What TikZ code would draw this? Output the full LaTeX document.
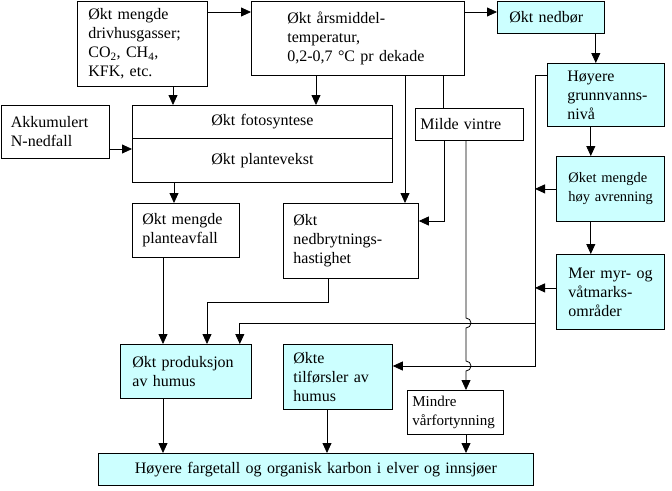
\documentclass[tikz,border=0pt]{standalone}
\usepackage{fontspec}
\setmainfont{Liberation Serif}
\usetikzlibrary{arrows.meta}
\definecolor{lysblaa}{RGB}{204,255,255}
\newcommand{\inn}[2]{\leftskip=#1pt\relax #2\par}

\begin{document}
\begin{tikzpicture}[x=1pt,y=-1pt,line width=0.8pt,>={Triangle[length=10pt,width=9pt]},
  boks/.style n args={2}{draw,fill=white,anchor=north west,align=left,inner sep=0pt,
    text width=#1,minimum height=#2,font=\fontsize{16}{19}\selectfont},
  midt/.style n args={2}{draw,fill=white,anchor=north west,align=center,inner sep=0pt,
    text width=#1,minimum height=#2,font=\fontsize{16}{19}\selectfont},
  blaa/.style={fill=lysblaa},
  liten/.style={font=\fontsize{#1}{19}\selectfont}]
   \useasboundingbox (0,0) rectangle (672,490);
   % boksene
   \node[boks={130}{85}] (gass) at (77,1) {\inn{11}{Økt mengde\\drivhusgasser;\\CO\textsubscript{2}, CH\textsubscript{4},\\KFK, etc.}};
   \node[boks={213}{74}] (temp) at (251,1) {\inn{36}{Økt årsmiddel-\\temperatur,\\0,2-0,7 °C pr dekade}};
   \node[boks={107}{32},blaa] (nedbor) at (497,1) {\inn{12}{Økt nedbør}};
   \node[boks={117}{63},blaa] (grunn) at (547,63) {\inn{20}{Høyere\\grunnvanns-\\nivå}};
   \node[boks={108}{65},blaa,liten=14.5] (avrenn) at (556,156) {\inn{12}{Øket mengde\\høy avrenning}};
   \node[boks={108}{75},blaa] (myr) at (556,254) {\inn{12}{Mer myr- og\\våtmarks-\\områder}};
   \node[boks={108}{53}] (akk) at (0.5,105) {\inn{10}{Akkumulert\\N-nedfall}};
   \node[midt={260}{33}] (foto) at (132,105) {Økt fotosyntese};
   \node[midt={260}{44}] (plante) at (132,138) {Økt plantevekst};
   \node[boks={108}{32}] (milde) at (415,108) {\inn{5}{Milde vintre}};
   \node[boks={107}{54}] (avfall) at (132,203) {\inn{10}{Økt mengde\\planteavfall}};
   \node[boks={135}{75}] (nedbryt) at (283,203) {\inn{10}{Økt\\nedbrytnings-\\hastighet}};
   \node[boks={131}{54},blaa] (prod) at (120,344) {\inn{12}{Økt produksjon\\av humus}};
   \node[boks={109}{65},blaa] (tilf) at (283,344) {\inn{10}{Økte\\tilførsler av\\humus}};
   \node[boks={96}{44},liten=15] (mindre) at (407,390) {\inn{5}{Mindre\\vårfortynning}};
   \node[midt={435}{32},blaa] (farge) at (98,453) {Høyere fargetall og organisk karbon i elver og innsjøer};
   \coordinate (kryss1) at (535,323);
   \coordinate (kryss2) at (535,366);
   % piler
   \draw[->] ([yshift=-11pt]gass.north east) -- ([yshift=-11pt]temp.north west);
   \draw[->] ([yshift=-11pt]temp.north east) -- ([yshift=-11pt]nedbor.north west);
   \draw[->] ([xshift=-9pt]nedbor.south east) -- ([xshift=-9pt]nedbor.south east |- grunn.north);
   \draw[->] ([xshift=-74pt]grunn.south east) -- ([xshift=-74pt]grunn.south east |- avrenn.north);
   \draw[->] ([xshift=-74pt]avrenn.south east) -- ([xshift=-74pt]avrenn.south east |- myr.north);
   \draw[->] ([xshift=96pt]gass.south west) -- ([xshift=96pt]gass.south west |- foto.north);
   \draw[->] ([xshift=65pt]temp.south west) -- ([xshift=65pt]temp.south west |- foto.north);
   \draw[->] ([xshift=154pt]temp.south west) -- ([xshift=154pt]temp.south west |- nedbryt.north);
   \draw ([xshift=192pt]temp.south west) -- ([xshift=192pt]temp.south west |- milde.north);
   \draw[->] ([xshift=29pt]milde.south west) |- ([yshift=-18pt]nedbryt.north east);
   \draw[->] ([yshift=-44pt]akk.north east) -- ([yshift=-11pt]plante.north west);
   \draw[->] ([xshift=42pt]plante.south west) -- ([xshift=42pt]plante.south west |- avfall.north);
   \draw[->] ([xshift=31pt]avfall.south west) -- ([xshift=31pt]avfall.south west |- prod.north);
   \draw[->] ([xshift=45pt]nedbryt.south west) -- ++(0,24) -| ([xshift=87pt]prod.north west);
   \draw[->] ([yshift=-12pt]grunn.north west) -| (kryss2) -- (tilf.east |- kryss2);
   \draw[->] (kryss1) -| ([xshift=-12pt]prod.north east);
   \draw[->] (avrenn.west) -- (avrenn.west -| kryss1);
   \draw[->] ([yshift=4pt]myr.west) -- ([yshift=4pt]myr.west -| kryss1);
   \draw[->] ([xshift=51pt]milde.south west)
      -- ([xshift=51pt,yshift=5pt]milde.south west |- kryss1) arc[start angle=-90,end angle=90,radius=5]
      -- ([xshift=51pt,yshift=5pt]milde.south west |- kryss2) arc[start angle=-90,end angle=90,radius=5]
      -- ([xshift=59pt]mindre.north west);
   \draw[->] ([xshift=43pt]prod.south west) -- ([xshift=43pt]prod.south west |- farge.north);
   \draw[->] ([xshift=44pt]tilf.south west) -- ([xshift=44pt]tilf.south west |- farge.north);
   \draw[->] ([xshift=59pt]mindre.south west) -- ([xshift=59pt]mindre.south west |- farge.north);
\end{tikzpicture}
\end{document}
